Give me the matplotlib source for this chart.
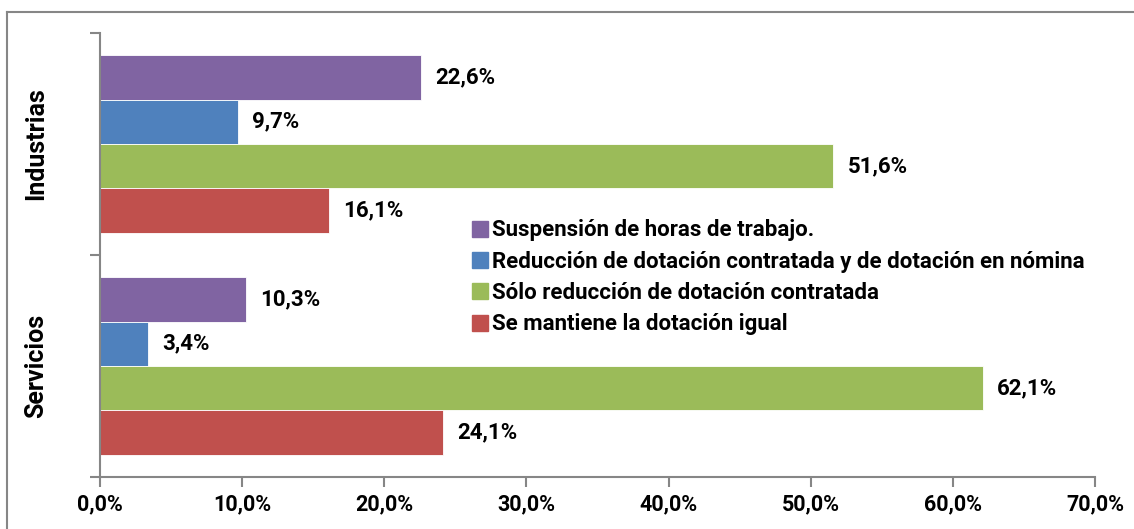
import matplotlib.pyplot as plt
from matplotlib.lines import Line2D
from matplotlib.ticker import FuncFormatter

plt.rcParams['font.family'] = ['Roboto', 'DejaVu Sans']
plt.rcParams['font.weight'] = 'bold'

categories = ['Servicios', 'Industrias']
series_names = ['Suspensión de horas de trabajo.',
                'Reducción de dotación contratada y de dotación en nómina',
                'Sólo reducción de dotación contratada',
                'Se mantiene la dotación igual']
suspension = [10.3, 22.6]
reduccion_ambas = [3.4, 9.7]
solo_contratada = [62.1, 51.6]
se_mantiene = [24.1, 16.1]
colors = ['#8064A2', '#4F81BD', '#9BBB59', '#C0504D']

series = [suspension, reduccion_ambas, solo_contratada, se_mantiene]

fig = plt.figure(figsize=(11.34, 5.29), dpi=100)
ax = fig.add_axes([100 / 1134, 1 - 477 / 529, 995 / 1134, 444 / 529])

h = 0.2
# purple on top, red at the bottom of each group
offsets = [0.3, 0.1, -0.1, -0.3]
for vals, off, col in zip(series, offsets, colors):
    ys = [i + off for i in range(len(categories))]
    ax.barh(ys, vals, height=h, color=col, edgecolor='white', linewidth=0.6)
    for y, v in zip(ys, vals):
        ax.text(v + 1.0, y, f'{v:.1f}%'.replace('.', ','), va='center', ha='left',
                fontsize=16, fontweight='bold')

ax.set_xlim(0, 70)
ax.set_ylim(-0.5, 1.5)
ax.set_xticks(range(0, 71, 10))
ax.xaxis.set_major_formatter(FuncFormatter(lambda x, p: f'{x:.1f}%'.replace('.', ',')))
ax.set_yticks([-0.5, 0.5, 1.5])
ax.set_yticklabels([])
for i, c in enumerate(categories):
    ax.text(-0.064, (i + 0.5) / 2, c, transform=ax.transAxes, rotation=90,
            ha='center', va='center', fontsize=18, fontweight='bold')
ax.tick_params(axis='both', which='major', length=7, width=1.5, color='#868686')
ax.tick_params(axis='x', labelsize=15.5, pad=5)
for lbl in ax.get_xticklabels():
    lbl.set_fontweight('bold')

for s in ['top', 'right']:
    ax.spines[s].set_visible(False)
for s in ['left', 'bottom']:
    ax.spines[s].set_color('#868686')
    ax.spines[s].set_linewidth(1.5)

handles = [Line2D([], [], marker='s', linestyle='', markersize=12, color=c) for c in colors]
ax.legend(handles, series_names, loc='upper left', bbox_to_anchor=(0.362, 0.60),
          frameon=False, fontsize=16, handletextpad=0.05, labelspacing=0.42,
          handlelength=1.0, borderaxespad=0)

# outer chart border (only top and left visible in the original)
fig.add_artist(Line2D([7 / 1134, 1], [1 - 12 / 529, 1 - 12 / 529], color='#868686', lw=1.5))
fig.add_artist(Line2D([7 / 1134, 7 / 1134], [0, 1 - 12 / 529], color='#868686', lw=1.5))

fig.savefig('out.png', dpi=100)
